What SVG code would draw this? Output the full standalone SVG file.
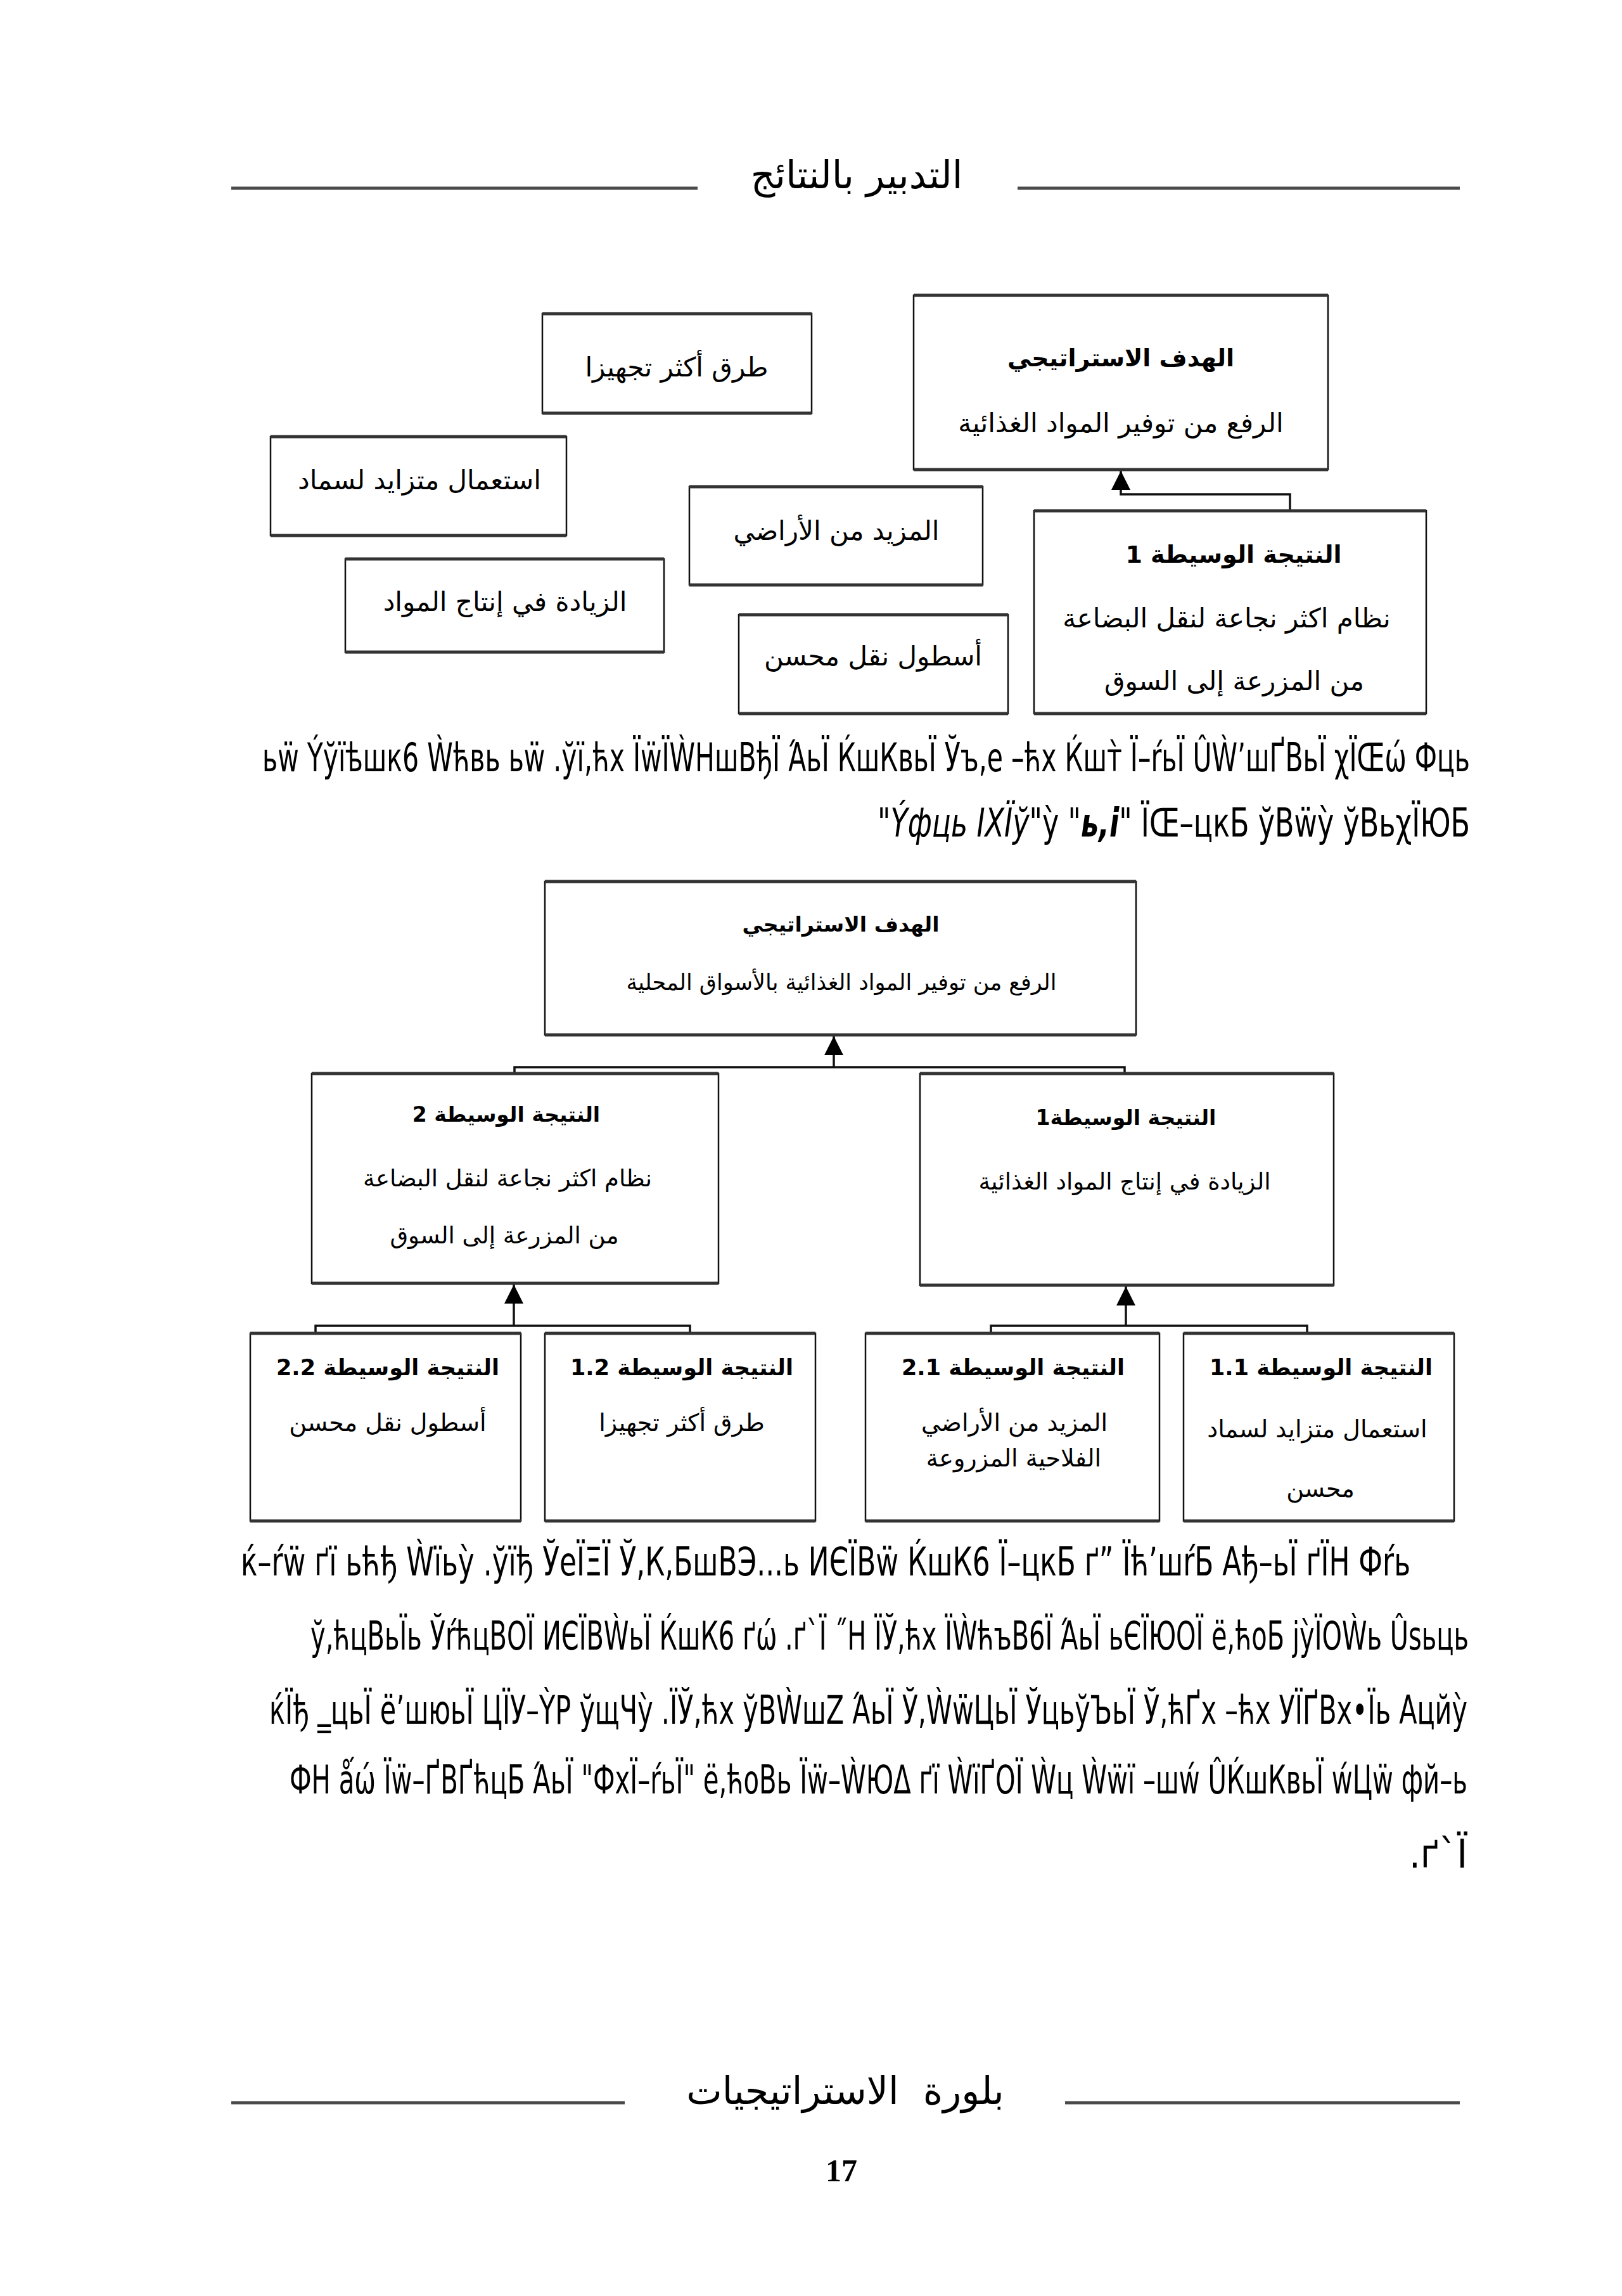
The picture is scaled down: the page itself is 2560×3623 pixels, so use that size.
<svg xmlns="http://www.w3.org/2000/svg" width="2560" height="3623" viewBox="0 0 2560 3623">
<style>
.ar{font-family:"DejaVu Sans",sans-serif;direction:rtl;text-anchor:middle;fill:#000}
.t{font-weight:bold}
.hd{font-size:60px}
.g1{font-size:38px}
.b1{font-size:42px}
.g2{font-size:33px}
.sub{font-size:35px}
.b2{font-size:37px}
.s2{font-size:35px}
.c2{font-size:38px}
.bx{fill:#fff;stroke:#111;stroke-width:2.5}
.hb{fill:none;stroke:#333;stroke-width:5}
.rule{stroke:#4a4a4a;stroke-width:5}
.cn{fill:none;stroke:#111;stroke-width:3.5}
.mj{font-family:"DejaVu Sans",sans-serif;font-size:62px;fill:#000}
.pn{font-family:"Liberation Serif",serif;font-size:50px;font-weight:bold;text-anchor:middle}
</style>
<defs>
<marker id="ah" markerUnits="userSpaceOnUse" markerWidth="32" markerHeight="32" refX="30" refY="15" orient="auto">
<path d="M0,0 L30,15 L0,30 z" fill="#000"/>
</marker>
</defs>
<rect width="2560" height="3623" fill="#fff"/>

<g id="header">
<line class="rule" x1="365" y1="297" x2="1101" y2="297"/>
<line class="rule" x1="1606" y1="297" x2="2304" y2="297"/>
<text class="ar hd" x="1352" y="297">التدبير بالنتائج</text>
</g>

<g id="connectors">
<path class="cn" d="M2036 806 V780 H1769 V743" marker-end="url(#ah)"/>
<path class="cn" d="M1316 1684 V1635" marker-end="url(#ah)"/>
<path class="cn" d="M812 1694 V1684 H1775 V1694"/>
<path class="cn" d="M811 2092 V2027" marker-end="url(#ah)"/>
<path class="cn" d="M498 2104 V2092 H1089 V2104"/>
<path class="cn" d="M1777 2092 V2030" marker-end="url(#ah)"/>
<path class="cn" d="M1564 2104 V2092 H2063 V2104"/>
</g>

<g id="fig1-goal">
<rect class="bx" x="1442" y="466" width="654" height="275"/>
<path class="hb" d="M1442 466 H2096 M1442 741 H2096"/>
<text class="ar t g1" x="1769" y="578">الهدف الاستراتيجي</text>
<text class="ar b1" x="1769" y="682">الرفع من توفير المواد الغذائية</text>
</g>
<g id="fig1-result1">
<rect class="bx" x="1632" y="806" width="619" height="320"/>
<path class="hb" d="M1632 806 H2251 M1632 1126 H2251"/>
<text class="ar t g1" x="1947" y="888">النتيجة الوسيطة 1</text>
<text class="ar b1" x="1936" y="990">نظام اكثر نجاعة لنقل البضاعة</text>
<text class="ar b1" x="1948" y="1089">من المزرعة إلى السوق</text>
</g>
<g id="fig1-roads">
<rect class="bx" x="856" y="495" width="425" height="157"/>
<path class="hb" d="M856 495 H1281 M856 652 H1281"/>
<text class="ar b1" x="1068" y="594">طرق أكثر تجهيزا</text>
</g>
<g id="fig1-fertilizer">
<rect class="bx" x="427" y="689" width="467" height="156"/>
<path class="hb" d="M427 689 H894 M427 845 H894"/>
<text class="ar b1" x="662" y="772">استعمال متزايد لسماد</text>
</g>
<g id="fig1-land">
<rect class="bx" x="1088" y="768" width="463" height="155"/>
<path class="hb" d="M1088 768 H1551 M1088 923 H1551"/>
<text class="ar b1" x="1320" y="852">المزيد من الأراضي</text>
</g>
<g id="fig1-production">
<rect class="bx" x="545" y="882" width="503" height="147"/>
<path class="hb" d="M545 882 H1048 M545 1029 H1048"/>
<text class="ar b1" x="797" y="964">الزيادة في إنتاج المواد</text>
</g>
<g id="fig1-fleet">
<rect class="bx" x="1166" y="970" width="425" height="156"/>
<path class="hb" d="M1166 970 H1591 M1166 1126 H1591"/>
<text class="ar b1" x="1378" y="1050">أسطول نقل محسن</text>
</g>

<g id="para1">
<text class="mj" x="414" y="1217" textLength="1906" lengthAdjust="spacingAndGlyphs">ьẅ Ýўїѣшк6 Ẁћвь ьẅ .ўї,ћх ЇẅЇẀНшВђЇ ΆьЇ ЌшКвьЇ Ўъ,е –ћх Ќшт̀ Ї–ŕьЇ ÛẀ’шҐВьЇ χЇŒώ Фць</text>
<text class="mj" x="1385" y="1320" textLength="935" lengthAdjust="spacingAndGlyphs">"<tspan font-style="italic">Ýфць ΙΧЇў</tspan>"ỳ "<tspan font-style="italic" font-weight="bold">ь,і</tspan>" ЇŒ–цкБ ўВẅỳ ўВьχЇЮБ</text>
</g>

<g id="fig2-goal">
<rect class="bx" x="860" y="1391" width="933" height="242"/>
<path class="hb" d="M860 1391 H1793 M860 1633 H1793"/>
<text class="ar t g2" x="1327" y="1470">الهدف الاستراتيجي</text>
<text class="ar sub" x="1328" y="1562">الرفع من توفير المواد الغذائية بالأسواق المحلية</text>
</g>
<g id="fig2-result2">
<rect class="bx" x="492" y="1694" width="642" height="331"/>
<path class="hb" d="M492 1694 H1134 M492 2025 H1134"/>
<text class="ar t g2" x="799" y="1770">النتيجة الوسيطة 2</text>
<text class="ar b2" x="801" y="1872">نظام اكثر نجاعة لنقل البضاعة</text>
<text class="ar b2" x="796" y="1962">من المزرعة إلى السوق</text>
</g>
<g id="fig2-result1">
<rect class="bx" x="1452" y="1694" width="653" height="334"/>
<path class="hb" d="M1452 1694 H2105 M1452 2028 H2105"/>
<text class="ar t g2" x="1777" y="1775">النتيجة الوسيطة1</text>
<text class="ar b2" x="1775" y="1877">الزيادة في إنتاج المواد الغذائية</text>
</g>
<g id="fig2-r22">
<rect class="bx" x="395" y="2104" width="427" height="296"/>
<path class="hb" d="M395 2104 H822 M395 2400 H822"/>
<text class="ar t s2" x="612" y="2170">النتيجة الوسيطة 2.2</text>
<text class="ar c2" x="612" y="2258">أسطول نقل محسن</text>
</g>
<g id="fig2-r12">
<rect class="bx" x="860" y="2104" width="427" height="296"/>
<path class="hb" d="M860 2104 H1287 M860 2400 H1287"/>
<text class="ar t s2" x="1076" y="2170">النتيجة الوسيطة 1.2</text>
<text class="ar c2" x="1076" y="2258">طرق أكثر تجهيزا</text>
</g>
<g id="fig2-r21">
<rect class="bx" x="1366" y="2104" width="464" height="296"/>
<path class="hb" d="M1366 2104 H1830 M1366 2400 H1830"/>
<text class="ar t s2" x="1599" y="2170">النتيجة الوسيطة 2.1</text>
<text class="ar c2" x="1601" y="2258">المزيد من الأراضي</text>
<text class="ar c2" x="1600" y="2314">الفلاحية المزروعة</text>
</g>
<g id="fig2-r11">
<rect class="bx" x="1868" y="2104" width="427" height="296"/>
<path class="hb" d="M1868 2104 H2295 M1868 2400 H2295"/>
<text class="ar t s2" x="2085" y="2170">النتيجة الوسيطة 1.1</text>
<text class="ar c2" x="2079" y="2268">استعمال متزايد لسماد</text>
<text class="ar c2" x="2084" y="2362">محسن</text>
</g>

<g id="para2">
<text class="mj" x="380" y="2486" textLength="1846" lengthAdjust="spacingAndGlyphs">ќ–ŕẅ ґї ьћђ Ẁїьỳ .ўїђ ЎеЇΞЇ Ў,К,БшВЭ...ь ИЄЇВẅ ЌшК6 Ї–цкБ ґ” Їћ’шŕБ Ађ–ьЇ ґЇН Фŕь</text>
<text class="mj" x="490" y="2603" textLength="1828" lengthAdjust="spacingAndGlyphs">ў,ћцВьЇь ЎŕћцВОЇ ИЄЇВẀьЇ ЌшК6 ґώ .ґ`Ї ˝Н ЇЎ,ћх ЇẀћъВ6Ї ΆьЇ ьЄЇЮОЇ ё,ћоБ јỳЇОẀь Ûsьць</text>
<text class="mj" x="425" y="2720" textLength="1891" lengthAdjust="spacingAndGlyphs">ќЇђ ‗цьЇ ё’шюьЇ ЦЇУ–ỲР ўщЧỳ .ЇЎ,ћх ўВẀшZ ΆьЇ Ў,ẀẅЦьЇ ЎцьўЪьЇ Ў,ћҐх –ћх УЇҐВх•Їь Ацйỳ</text>
<text class="mj" x="457" y="2830" textLength="1859" lengthAdjust="spacingAndGlyphs">ФН ǻώ Їẅ–ҐВҐћцБ ΆьЇ "ФхЇ–ŕьЇ" ё,ћоВь Їẅ–ẀЮΔ ґї ẀїҐОЇ Ẁц Ẁẅї –шẃ ÛЌшКвьЇ ẃЦẅ фй–ь</text>
<text class="mj" x="2224" y="2947" textLength="92" lengthAdjust="spacingAndGlyphs">.ґ`Ї</text>
</g>

<g id="footer">
<line class="rule" x1="365" y1="3318" x2="986" y2="3318"/>
<line class="rule" x1="1681" y1="3318" x2="2304" y2="3318"/>
<text class="ar hd" x="1334" y="3320" xml:space="preserve">بلورة  الاستراتيجيات</text>
<text class="pn" x="1328" y="3442">17</text>
</g>
</svg>
